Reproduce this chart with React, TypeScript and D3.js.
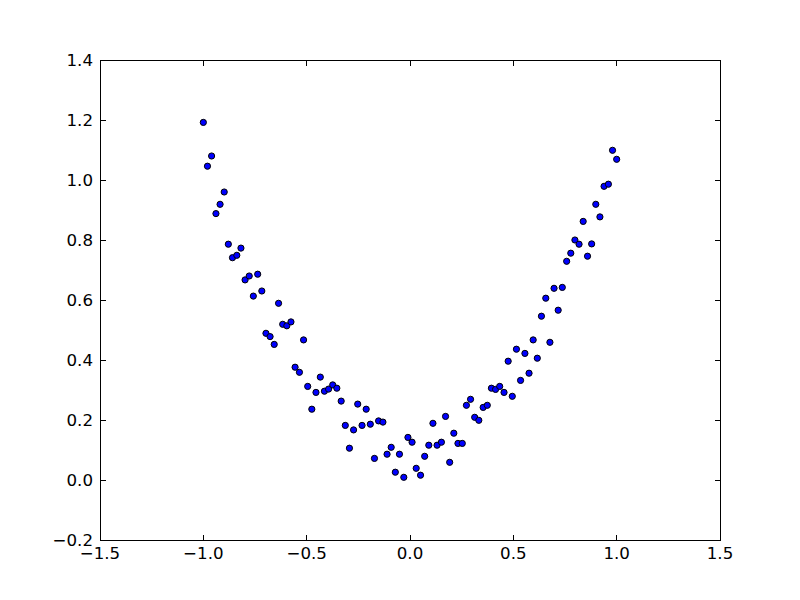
import React from "react";
import * as d3 from "d3";

const xValues = [
  -1.0, -0.98, -0.96, -0.939, -0.919, -0.899, -0.879, -0.859, -0.838, -0.818,
  -0.798, -0.778, -0.758, -0.737, -0.717, -0.697, -0.677, -0.657, -0.636, -0.616,
  -0.596, -0.576, -0.556, -0.535, -0.515, -0.495, -0.475, -0.455, -0.434, -0.414,
  -0.394, -0.374, -0.354, -0.333, -0.313, -0.293, -0.273, -0.253, -0.232, -0.212,
  -0.192, -0.172, -0.152, -0.131, -0.111, -0.091, -0.071, -0.051, -0.03, -0.01,
  0.01, 0.03, 0.051, 0.071, 0.091, 0.111, 0.131, 0.152, 0.172, 0.192,
  0.212, 0.232, 0.253, 0.273, 0.293, 0.313, 0.333, 0.354, 0.374, 0.394,
  0.414, 0.434, 0.455, 0.475, 0.495, 0.515, 0.535, 0.556, 0.576, 0.596,
  0.616, 0.636, 0.657, 0.677, 0.697, 0.717, 0.737, 0.758, 0.778, 0.798,
  0.818, 0.838, 0.859, 0.879, 0.899, 0.919, 0.939, 0.96, 0.98, 1.0,
];

const yValues = [
  1.192, 1.046, 1.08, 0.888, 0.919, 0.96, 0.786, 0.741, 0.749, 0.773,
  0.667, 0.68, 0.613, 0.686, 0.63, 0.489, 0.478, 0.452, 0.589, 0.519,
  0.514, 0.527, 0.376, 0.359, 0.467, 0.312, 0.236, 0.292, 0.343, 0.296,
  0.303, 0.317, 0.306, 0.263, 0.182, 0.106, 0.167, 0.253, 0.182, 0.236,
  0.186, 0.072, 0.197, 0.193, 0.086, 0.109, 0.026, 0.086, 0.009, 0.142,
  0.126, 0.039, 0.016, 0.079, 0.116, 0.189, 0.116, 0.126, 0.212, 0.059,
  0.156, 0.122, 0.122, 0.249, 0.269, 0.209, 0.199, 0.242, 0.249, 0.306,
  0.302, 0.312, 0.292, 0.396, 0.279, 0.436, 0.332, 0.422, 0.356, 0.467,
  0.406, 0.546, 0.606, 0.459, 0.639, 0.566, 0.642, 0.729, 0.756, 0.8,
  0.786, 0.862, 0.746, 0.787, 0.919, 0.877, 0.979, 0.986, 1.099, 1.069,
];

const xTicks = [-1.5, -1.0, -0.5, 0.0, 0.5, 1.0, 1.5];
const yTicks = [-0.2, 0.0, 0.2, 0.4, 0.6, 0.8, 1.0, 1.2, 1.4];

const W = 800;
const H = 600;
const left = 100;
const right = 720;
const top = 60;
const bottom = 540;
const tickLen = 5.5;
const font = "'DejaVu Sans', sans-serif";
const fontSize = 16.67;

const fmt = (v: number) => {
  const s = Math.abs(v).toFixed(1);
  return (v < 0 ? "\u2212" : "") + s;
};

export default function App() {
  const x = d3.scaleLinear().domain([-1.5, 1.5]).range([left, right]);
  const y = d3.scaleLinear().domain([-0.2, 1.4]).range([bottom, top]);
  const points = xValues.map((xv, i) => ({ x: xv, y: yValues[i] }));

  return (
    <svg
      width={W}
      height={H}
      style={{ position: "absolute", left: 0, top: 0, display: "block", background: "#fff" }}
    >
      <rect x={0} y={0} width={W} height={H} fill="#fff" />
      {points.map((p, i) => (
        <circle
          key={i}
          cx={x(p.x)}
          cy={y(p.y)}
          r={3.1}
          fill="#0000ff"
          stroke="#000"
          strokeWidth={1}
        />
      ))}
      <rect
        x={left}
        y={top}
        width={right - left}
        height={bottom - top}
        fill="none"
        stroke="#000"
        strokeWidth={1}
        shapeRendering="crispEdges"
      />
      {xTicks.map((t) => (
        <g key={"x" + t}>
          <line x1={x(t)} x2={x(t)} y1={bottom} y2={bottom - tickLen} stroke="#000" strokeWidth={1} shapeRendering="crispEdges" />
          <line x1={x(t)} x2={x(t)} y1={top} y2={top + tickLen} stroke="#000" strokeWidth={1} shapeRendering="crispEdges" />
          <text
            x={x(t)}
            y={bottom + 19}
            textAnchor="middle"
            fontFamily={font}
            fontSize={fontSize}
            fill="#000"
          >
            {fmt(t)}
          </text>
        </g>
      ))}
      {yTicks.map((t) => (
        <g key={"y" + t}>
          <line x1={left} x2={left + tickLen} y1={y(t)} y2={y(t)} stroke="#000" strokeWidth={1} shapeRendering="crispEdges" />
          <line x1={right} x2={right - tickLen} y1={y(t)} y2={y(t)} stroke="#000" strokeWidth={1} shapeRendering="crispEdges" />
          <text
            x={left - 7}
            y={y(t) + 6}
            textAnchor="end"
            fontFamily={font}
            fontSize={fontSize}
            fill="#000"
          >
            {fmt(t)}
          </text>
        </g>
      ))}
    </svg>
  );
}
